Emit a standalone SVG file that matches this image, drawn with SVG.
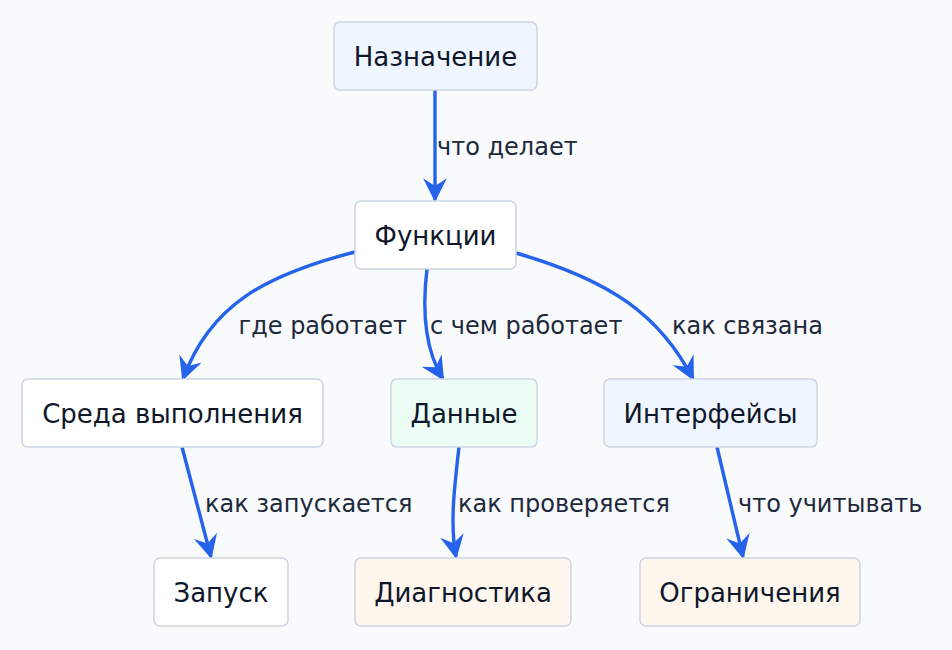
<svg xmlns="http://www.w3.org/2000/svg" width="952" height="650" viewBox="0 0 952 650">
<style>
.node rect{stroke:#cbd5e1;stroke-width:1.5}
.node text{font-family:"DejaVu Sans",sans-serif;font-size:26px;fill:#0f172a;text-anchor:middle;dominant-baseline:central}
.edge{fill:none;stroke:#2563eb;stroke-width:3.4}
.lbl{font-family:"DejaVu Sans",sans-serif;font-size:24px;fill:#1e293b}
</style>
<defs>
<marker id="arr" viewBox="0 0 12 12" refX="11" refY="6" markerWidth="7" markerHeight="7" markerUnits="strokeWidth" orient="auto">
<path d="M0,0 L12,6 L0,12 L4,6 z" fill="#2563eb"/>
</marker>
</defs>
<rect width="952" height="650" fill="#f8fafc"/>
<g id="edges">
<path class="edge" marker-end="url(#arr)" d="M435,90 L435,200"/>
<path class="edge" marker-end="url(#arr)" d="M355,252 C265,275 210,305 183,379"/>
<path class="edge" marker-end="url(#arr)" d="M427,269 C422,310 425,350 443,379"/>
<path class="edge" marker-end="url(#arr)" d="M516,253 C610,280 660,315 693,379"/>
<path class="edge" marker-end="url(#arr)" d="M182,447 L211,557"/>
<path class="edge" marker-end="url(#arr)" d="M459,447 C454,490 450,525 456,557"/>
<path class="edge" marker-end="url(#arr)" d="M717,447 L743,557"/>
<text class="lbl" x="437" y="155">что делает</text>
<text class="lbl" x="407" y="334" text-anchor="end">где работает</text>
<text class="lbl" x="430" y="334">с чем работает</text>
<text class="lbl" x="672" y="334">как связана</text>
<text class="lbl" x="205" y="512">как запускается</text>
<text class="lbl" x="458" y="512">как проверяется</text>
<text class="lbl" x="738" y="512">что учитывать</text>
</g>
<g id="n1" class="node"><rect x="334" y="22" width="203" height="68" rx="6" fill="#eff6ff"/><text x="435.5" y="57">Назначение</text></g>
<g id="n2" class="node"><rect x="355" y="201" width="161" height="68" rx="6" fill="#ffffff"/><text x="435.5" y="236">Функции</text></g>
<g id="n3" class="node"><rect x="22" y="379" width="301" height="68" rx="6" fill="#ffffff"/><text x="172.5" y="414">Среда выполнения</text></g>
<g id="n4" class="node"><rect x="391" y="379" width="146" height="68" rx="6" fill="#ecfdf5"/><text x="464" y="414">Данные</text></g>
<g id="n5" class="node"><rect x="604" y="379" width="213" height="68" rx="6" fill="#eff6ff"/><text x="710.5" y="414">Интерфейсы</text></g>
<g id="n6" class="node"><rect x="154" y="558" width="134" height="68" rx="6" fill="#ffffff"/><text x="221" y="593">Запуск</text></g>
<g id="n7" class="node"><rect x="355" y="558" width="216" height="68" rx="6" fill="#fff7ed"/><text x="463" y="593">Диагностика</text></g>
<g id="n8" class="node"><rect x="640" y="558" width="220" height="68" rx="6" fill="#fff7ed"/><text x="750" y="593">Ограничения</text></g>
</svg>
